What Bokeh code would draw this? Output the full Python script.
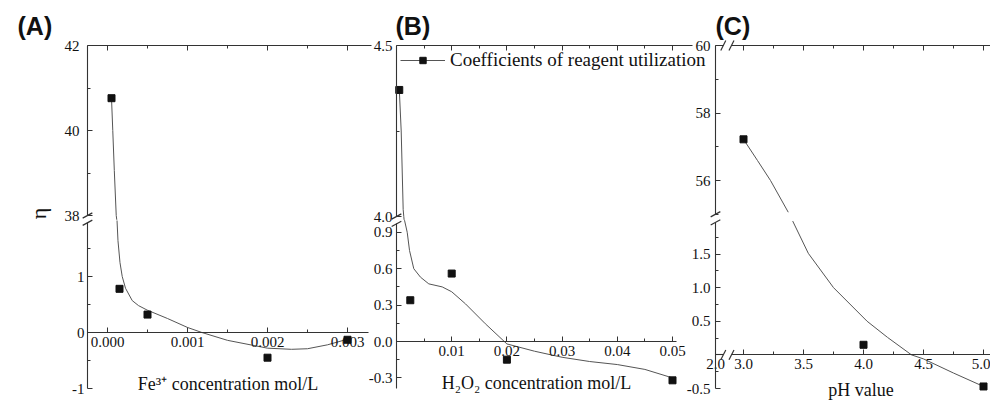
import math

from bokeh.embed import file_html
from bokeh.models import (FixedTicker, Label, Legend, LegendItem, LinearAxis,
                          PrintfTickFormatter, Range1d)
from bokeh.plotting import figure
from bokeh.resources import INLINE

# ---------------- data ----------------
# (A) utilization coefficient vs Fe3+ concentration (mol/L)
fe_conc = [0.00005, 0.00015, 0.0005, 0.002, 0.003]
fe_eta = [40.76, 0.78, 0.32, -0.45, -0.13]
# fitted curve through the Fe3+ series
fe_fit_x = [0.00005, 0.000066, 0.000085, 0.000109, 0.000116,
            0.000119, 0.000131, 0.000156, 0.000184, 0.000225, 0.000309,
            0.000388, 0.000496, 0.00075, 0.001, 0.00118, 0.0015, 0.002,
            0.0023, 0.0025, 0.00275, 0.003]
fe_fit_y = [40.76, 40.0, 39.06, 38.0, 37.9,
            2.0, 1.64, 1.25, 1.0, 0.79, 0.57,
            0.48, 0.40, 0.25, 0.09, 0.0, -0.14, -0.28,
            -0.30, -0.29, -0.22, -0.12]

# (B) utilization coefficient vs H2O2 concentration (mol/L)
h2o2_conc = [0.0005, 0.0025, 0.01, 0.02, 0.05]
h2o2_eta = [4.37, 0.34, 0.56, -0.15, -0.32]
h2o2_fit_x = [0.00054, 0.00085, 0.00121, 0.00132, 0.00138,
              0.00145, 0.00194, 0.00236, 0.00313, 0.00435, 0.00585, 0.00828,
              0.01, 0.0125, 0.0161, 0.02, 0.025, 0.03, 0.035, 0.04, 0.045, 0.05]
h2o2_fit_y = [4.36, 4.25, 4.02, 4.0, 3.99,
              1.0, 0.9, 0.75, 0.60, 0.53, 0.475, 0.45,
              0.41, 0.31, 0.146, -0.02, -0.08, -0.13, -0.165, -0.19, -0.23, -0.30]

# (C) utilization coefficient vs pH
ph = [3.0, 4.0, 5.0]
ph_eta = [57.22, 0.15, -0.47]
ph_fit_x = [3.0, 3.117, 3.225, 3.373,
            3.41, 3.54, 3.75, 4.03, 4.2, 4.4, 4.5, 4.75, 5.0]
ph_fit_y = [57.22, 56.59, 56.0, 55.06,
            1.99, 1.51, 1.0, 0.5, 0.26, 0.0, -0.06, -0.27, -0.47]

# values above these thresholds belong to the upper segment of each broken axis
SPLIT_A, SPLIT_B, SPLIT_C = 20.0, 2.5, 28.0

W, H = 990, 407
SERIF = "Liberation Serif"
INK = "#333333"


def x_span(p1, v1, p2, v2):
    """Range whose scale puts value v1 at pixel p1 and v2 at pixel p2."""
    k = (v2 - v1) / (p2 - p1)
    return Range1d(v1 + (0 - p1) * k, v1 + (W - p1) * k)


def y_span(p1, v1, p2, v2):
    k = (v2 - v1) / (p2 - p1)
    return Range1d(v1 + (H - p1) * k, v1 + (0 - p1) * k)


ranges_x = {
    "default": x_span(187, 0.001, 347, 0.003),
    "xb": x_span(396, 0.0, 672, 0.05),
    "xc": x_span(743, 3.0, 983, 5.0),
    "xc2": x_span(715, 2.0, 835, 3.0),
}
ranges_y = {
    "default": y_span(332, 0.0, 276, 1.0),
    "ya_hi": y_span(45, 42.0, 130, 40.0),
    "yb_hi": y_span(45, 4.5, 216, 4.0),
    "yb_lo": y_span(341, 0.0, 231.8, 0.9),
    "yc_hi": y_span(45, 60.0, 180, 56.0),
    "yc_lo": y_span(253.5, 1.5, 388, -0.5),
}

p = figure(width=W, height=H, output_backend="svg", toolbar_location=None,
           x_axis_type=None, y_axis_type=None, min_border=0,
           x_range=ranges_x["default"], y_range=ranges_y["default"])
p.extra_x_ranges = {k: v for k, v in ranges_x.items() if k != "default"}
p.extra_y_ranges = {k: v for k, v in ranges_y.items() if k != "default"}
p.outline_line_color = None
p.background_fill_color = "white"
p.border_fill_color = "white"

AXIS_STYLE = dict(
    axis_line_color=INK, axis_line_width=1.1,
    major_tick_line_color=INK, minor_tick_line_color=INK,
    major_tick_in=5, major_tick_out=0, minor_tick_in=3, minor_tick_out=0,
    major_label_text_font=SERIF, major_label_text_font_size="15px",
    major_label_text_color="#111111",
    axis_label_text_font=SERIF, axis_label_text_font_size="18px",
    axis_label_text_font_style="normal", axis_label_text_color="#111111",
)


def add_axis(side, xr, yr, loc, bounds, ticks=(), minor=(), fmt="%d",
             standoff=4, show_labels=True, title=None, title_standoff=5):
    ax = LinearAxis(x_range_name=xr, y_range_name=yr, fixed_location=loc,
                    bounds=bounds,
                    ticker=FixedTicker(ticks=list(ticks), minor_ticks=list(minor)),
                    formatter=PrintfTickFormatter(format=fmt),
                    major_label_standoff=standoff, **AXIS_STYLE)
    if not show_labels:
        ax.major_label_overrides = {float(t): "" for t in ticks}
    if title:
        ax.axis_label = title
        ax.axis_label_standoff = title_standoff
    p.add_layout(ax, side)
    return ax


def break_marks(xr, yr, xs, ys, angle):
    p.scatter(xs, ys, marker="dash", size=11, angle=angle, line_color=INK,
              line_width=1.2, x_range_name=xr, y_range_name=yr)


def split(xs, ys, limit):
    hi = [(x, y) for x, y in zip(xs, ys) if y > limit]
    lo = [(x, y) for x, y in zip(xs, ys) if y <= limit]
    return ([a for a, _ in hi], [b for _, b in hi]), ([a for a, _ in lo], [b for _, b in lo])


def draw_series(xr, yr_hi, yr_lo, xs, ys, fx, fy, limit):
    (fxh, fyh), (fxl, fyl) = split(fx, fy, limit)
    (sxh, syh), (sxl, syl) = split(xs, ys, limit)
    line_kw = dict(line_color="#555555", line_width=1)
    dot_kw = dict(marker="square", size=7, fill_color="#111111", line_color="#111111")
    p.line(fxh, fyh, x_range_name=xr, y_range_name=yr_hi, **line_kw)
    lo_line = p.line(fxl, fyl, x_range_name=xr, y_range_name=yr_lo, **line_kw)
    p.scatter(sxh, syh, x_range_name=xr, y_range_name=yr_hi, **dot_kw)
    lo_dots = p.scatter(sxl, syl, x_range_name=xr, y_range_name=yr_lo, **dot_kw)
    return lo_line, lo_dots


# ---------- panel A ----------
a_left = -0.00025
a_ticks = [0.0, 0.001, 0.002, 0.003]
a_minor = [0.0005, 0.0015, 0.0025]
add_axis("above", "default", "ya_hi", 42.0, (a_left, 0.0033), a_ticks, a_minor, show_labels=False)
add_axis("below", "default", "default", 0.0, (a_left, 0.00326), a_ticks, a_minor, fmt="%.3f",
         standoff=4, title="Fe\u00b3\u207a concentration mol/L", title_standoff=24)
add_axis("left", "default", "ya_hi", a_left, (38.0, 42.0), [38, 40, 42], [39, 41], standoff=8)
add_axis("left", "default", "default", a_left, (-1.0, 1.96), [-1, 0, 1], [-0.5, 0.5, 1.5], standoff=3)
break_marks("default", "ya_hi", [a_left], [38.0], 0.5)
break_marks("default", "default", [a_left], [1.96], 0.5)
draw_series("default", "ya_hi", "default", fe_conc, fe_eta, fe_fit_x, fe_fit_y, SPLIT_A)

# ---------- panel B ----------
b_ticks = [0.01, 0.02, 0.03, 0.04, 0.05]
b_minor = [0.005, 0.015, 0.025, 0.035, 0.045]
add_axis("above", "xb", "yb_hi", 4.5, (0.0, 0.0536), b_ticks, b_minor, show_labels=False)
add_axis("below", "xb", "yb_lo", 0.0, (0.0, 0.0507), b_ticks, b_minor, fmt="%.2f",
         standoff=4, title="H\u2082O\u2082 concentration mol/L", title_standoff=14)
add_axis("left", "xb", "yb_hi", 0.0, (4.0, 4.5), [4.0, 4.5], [4.25], fmt="%.1f", standoff=4)
add_axis("left", "xb", "yb_lo", 0.0, (-0.387, 0.97), [-0.3, 0.0, 0.3, 0.6, 0.9],
         [-0.15, 0.15, 0.45, 0.75], fmt="%.1f", standoff=4)
break_marks("xb", "yb_hi", [0.0], [4.0], 0.5)
break_marks("xb", "yb_lo", [0.0], [0.97], 0.5)
b_line, b_dots = draw_series("xb", "yb_hi", "yb_lo", h2o2_conc, h2o2_eta,
                             h2o2_fit_x, h2o2_fit_y, SPLIT_B)

# ---------- panel C ----------
c_ticks = [3.0, 3.5, 4.0, 4.5, 5.0]
c_minor = [3.25, 3.75, 4.25, 4.75]
add_axis("above", "xc2", "yc_hi", 60.0, (2.0, 2.065), [], show_labels=False)
add_axis("above", "xc", "yc_hi", 60.0, (2.9, 5.06), c_ticks, c_minor, show_labels=False)
add_axis("below", "xc2", "yc_lo", 0.0, (2.0, 2.065), [2.0], fmt="%.1f", standoff=4)
add_axis("below", "xc", "yc_lo", 0.0, (2.9, 5.06), c_ticks, c_minor, fmt="%.1f",
         standoff=4, title="pH value", title_standoff=8)
add_axis("left", "xc2", "yc_hi", 2.0, (55.0, 60.0), [56, 58, 60], [55, 57, 59], standoff=5)
add_axis("left", "xc2", "yc_lo", 2.0, (-0.5, 1.97), [-0.5, 0.5, 1.0, 1.5],
         [-0.25, 0.25, 0.75, 1.25, 1.75], fmt="%.1f", standoff=5)
break_marks("xc2", "yc_hi", [2.0], [55.0], 0.5)
break_marks("xc2", "yc_lo", [2.0], [1.97], 0.5)
break_marks("xc2", "yc_hi", [2.065], [60.0], 1.1)
break_marks("xc", "yc_hi", [2.9], [60.0], 1.1)
break_marks("xc2", "yc_lo", [2.065], [0.0], 1.1)
break_marks("xc", "yc_lo", [2.9], [0.0], 1.1)
draw_series("xc", "yc_hi", "yc_lo", ph, ph_eta, ph_fit_x, ph_fit_y, SPLIT_C)

# ---------- legend ----------
legend = Legend(items=[LegendItem(label="Coefficients of reagent utilization",
                                  renderers=[b_line, b_dots])],
                location=(400, 336), orientation="vertical",
                glyph_width=45, glyph_height=16, label_height=16, label_standoff=5,
                padding=0, margin=0, spacing=0,
                label_text_font=SERIF, label_text_font_size="19px",
                label_text_color="#111111",
                background_fill_alpha=0, border_line_alpha=0)
p.add_layout(legend)

# ---------- panel tags and y title ----------
for tag, x in (("(A)", 17), ("(B)", 395), ("(C)", 715)):
    p.add_layout(Label(x=x, y=H - 25, x_units="screen", y_units="screen", text=tag,
                       text_font="Liberation Sans", text_font_style="bold",
                       text_font_size="25px", text_color="#111111",
                       text_align="left", text_baseline="middle"))

p.add_layout(Label(x=38, y=H - 213, x_units="screen", y_units="screen", text="\u03b7",
                   angle=math.pi / 2, text_font=SERIF, text_font_size="22px",
                   text_color="#111111", text_align="center", text_baseline="middle"))

open("out.html", "w").write(file_html(p, INLINE))
